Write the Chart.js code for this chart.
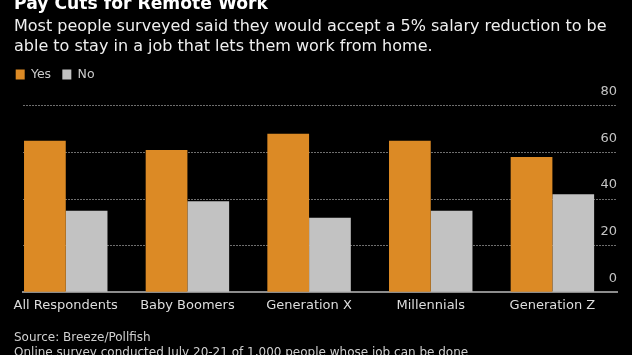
<!DOCTYPE html>
<html><head><meta charset="utf-8">
<script src="https://cdn.jsdelivr.net/npm/chart.js@4.4.1/dist/chart.umd.min.js"></script>
<style>html,body{margin:0;padding:0;background:#000;overflow:hidden;} canvas{display:block;background:#000;}</style>
</head><body>
<canvas id="c" width="632" height="355"></canvas>
<script>
const titleText = 'Pay Cuts for Remote Work';
const subtitleLines = ['Most people surveyed said they would accept a 5% salary reduction to be', 'able to stay in a job that lets them work from home.'];
const sourceLines = ['Source: Breeze/Pollfish', 'Online survey conducted July 20-21 of 1,000 people whose job can be done'];
const categories = ['All Respondents', 'Baby Boomers', 'Generation X', 'Millennials', 'Generation Z'];
const seriesNames = ['Yes', 'No'];
const yesValues = [65, 61, 68, 65, 58];
const noValues = [35, 39, 32, 35, 42];
const yTicks = [0, 20, 40, 60, 80];

const FONT = "'DejaVu Sans', sans-serif";

const textPlugin = {
  id: 'textBlocks',
  afterDraw(chart) {
    const ctx = chart.ctx;
    ctx.save();
    ctx.textAlign = 'left';
    ctx.textBaseline = 'alphabetic';
    ctx.fillStyle = '#ffffff';
    ctx.font = 'bold 17.2px ' + FONT;
    ctx.fillText(titleText, 14, 8.5);
    ctx.fillStyle = '#efefef';
    ctx.font = '16px ' + FONT;
    subtitleLines.forEach((t, i) => ctx.fillText(t, 14, 30.7 + i * 20));
    ctx.fillStyle = '#d0d0d0';
    ctx.font = '12px ' + FONT;
    sourceLines.forEach((t, i) => ctx.fillText(t, 14, 341 + i * 14.5));
    ctx.restore();
  }
};

const toPoints = arr => arr.map((v, i) => ({x: i, y: v}));

new Chart(document.getElementById('c'), {
  type: 'bar',
  data: {
    datasets: [
      {label: seriesNames[0], data: toPoints(yesValues), backgroundColor: '#dc8a25', borderWidth: 0,
       xAxisID: 'x', yAxisID: 'y', categoryPercentage: 0.686, barPercentage: 1},
      {label: seriesNames[1], data: toPoints(noValues), backgroundColor: '#c2c2c2', borderWidth: 0,
       xAxisID: 'x', yAxisID: 'y', categoryPercentage: 0.686, barPercentage: 1}
    ]
  },
  options: {
    responsive: false,
    animation: false,
    devicePixelRatio: 1,
    layout: {padding: {left: 4.5, top: 57, right: 15, bottom: 35.7}},
    plugins: {
      legend: {
        position: 'top', align: 'start',
        labels: {color: '#cccccc', font: {family: FONT, size: 12.5}, boxWidth: 9, boxHeight: 10, padding: 11.2}
      },
      tooltip: {enabled: false},
      title: {display: false}
    },
    scales: {
      x: {
        type: 'linear', position: 'bottom', min: -0.3514, max: 4.531, offset: false,
        afterBuildTicks: s => { s.ticks = categories.map((c, i) => ({value: i})); },
        ticks: {callback: v => categories[v], color: '#dddddd', font: {family: FONT, size: 13},
                padding: 5.7, maxRotation: 0, autoSkip: false},
        grid: {display: false, drawTicks: false, offset: false},
        border: {display: true, color: '#8c8c8c', width: 2}
      },
      y: {
        type: 'linear', position: 'right', min: 0, max: 80,
        afterBuildTicks: s => { s.ticks = yTicks.map(v => ({value: v})); },
        ticks: {mirror: true, padding: 0, labelOffset: -14, color: '#c4c4c4', font: {family: FONT, size: 13}},
        grid: {color: c => (c.tick && c.tick.value === 0) ? 'rgba(0,0,0,0)' : '#6e6e6e', lineWidth: 1, drawTicks: false},
        border: {display: false, dash: [2, 1]}
      },
      yLeft: {
        type: 'linear', position: 'left', display: true,
        ticks: {display: false}, grid: {display: false, drawTicks: false}, border: {display: false},
        afterFit: s => { s.width = 18.5; }
      },
      spacer: {
        type: 'linear', position: 'top', display: true,
        ticks: {display: false}, grid: {display: false, drawTicks: false}, border: {display: false},
        afterFit: s => { s.height = 15; }
      }
    }
  },
  plugins: [textPlugin]
});
</script>
</body></html>
